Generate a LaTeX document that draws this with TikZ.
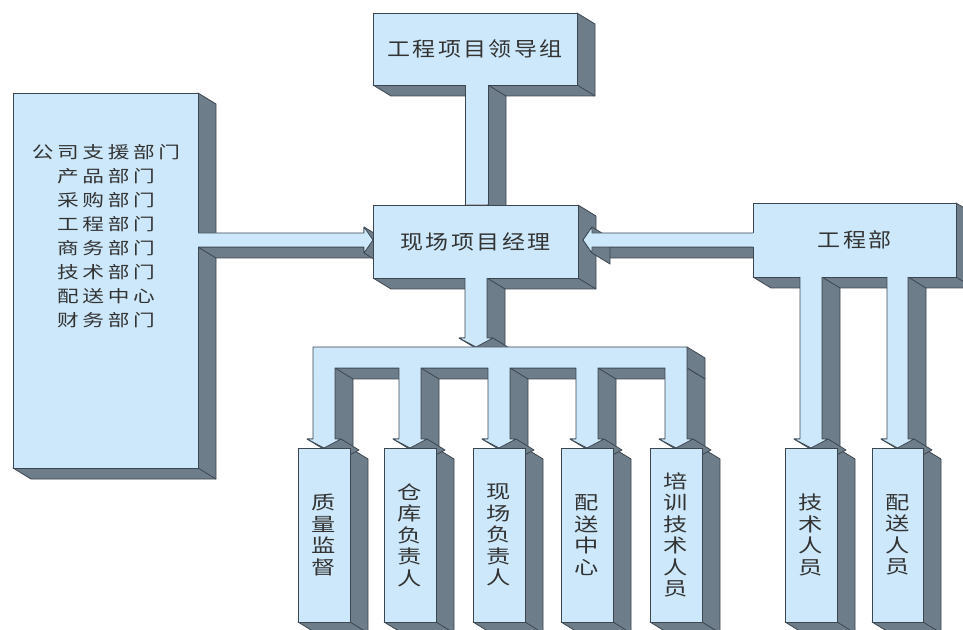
\documentclass[tikz,border=0pt]{standalone}
\usepackage{fontspec}
\newfontfamily\cjkT[FakeStretch=1.15,LetterSpace=12]{Noto Sans CJK SC}
\newfontfamily\cjkL[FakeStretch=1.3,LetterSpace=22]{Noto Sans CJK SC}
\newfontfamily\cjkV[FakeStretch=1.3]{Noto Sans CJK SC}
\definecolor{facec}{HTML}{CCE8FA}
\definecolor{sidec}{HTML}{6E7D8A}
\definecolor{linec}{HTML}{3C4650}
\definecolor{textc}{HTML}{333333}
\def\dX{18}
\def\dY{11}
\tikzset{
  sideface/.style={fill=sidec, draw=linec, line width=0.6pt, line join=round},
  edge/.style={draw=linec, line width=0.6pt, line join=round},
  frontface/.style={fill=facec, draw=linec, line width=0.6pt, inner sep=0pt, text=textc, align=center},
  ttext/.style={font={\cjkT\fontsize{15pt}{18pt}\selectfont}},
  vtext/.style={font={\cjkV\fontsize{14pt}{16.1pt}\selectfont}},
  ltext/.style={font={\cjkL\fontsize{12.5pt}{18pt}\selectfont}, text=textc, align=center, inner sep=0pt},
}
% extrusion of a rectangle x1,y1,x2,y2 (image coords)
\newcommand{\extr}[4]{%
  \filldraw[sideface] (#3,#2) -- ({#3+\dX},{#2+\dY}) -- ({#3+\dX},{#4+\dY}) -- ({#1+\dX},{#4+\dY}) -- (#1,#4) -- (#3,#4) -- cycle;
  \draw[edge] (#3,#4) -- ({#3+\dX},{#4+\dY});}
% extrusion of a downward arrow head: a, b, tip y
\newcommand{\extrdown}[3]{%
  \filldraw[sideface] ({#1-6},{#3-9}) -- ({#2+6},{#3-9}) -- ({#2+6+\dX},{#3-9+\dY}) -- ({(#1+#2)/2+\dX},{#3+\dY}) -- ({#1-6+\dX},{#3-9+\dY}) -- cycle;}
% front of a downward bar: a, b, start y, tip y
\newcommand{\downbar}[4]{%
  \fill[facec] (#1,{#3-2}) -- (#1,{#4-9}) -- ({#1-6},{#4-9}) -- ({(#1+#2)/2},#4) -- ({#2+6},{#4-9}) -- (#2,{#4-9}) -- (#2,{#3-2}) -- cycle;
  \draw[edge] (#1,#3) -- (#1,{#4-9}) -- ({#1-6},{#4-9}) -- ({(#1+#2)/2},#4) -- ({#2+6},{#4-9}) -- (#2,{#4-9}) -- (#2,#3);}
% front box node: name, x1, y1, x2, y2, style, text
\newcommand{\frontbox}[7]{%
  \node[frontface, #6, minimum width={(#4-#2)*0.75pt}, minimum height={(#5-#3)*0.75pt}] (#1) at ({(#2+#4)/2},{(#3+#5)/2}) {#7};}
\begin{document}
\begin{tikzpicture}[x=0.75pt, y=-0.75pt]
\useasboundingbox (0,0) rectangle (963,630);
\clip (0,0) rectangle (963,630);
% ---------- extrusions (back) ----------
\extr{13}{93}{198}{468}
\extr{373}{13}{577}{85}
\extr{373}{205}{578}{278}
\extr{753}{203}{956}{277}
\foreach \a/\b in {298/350, 384/436, 473/525, 561/613, 650/702, 785/837, 872/923}
  {\extr{\a}{448}{\b}{622}}
% bars
\extr{465}{85}{488}{205}
\extr{465}{278}{487}{338}
\extrdown{465}{487}{347}
\extr{313}{347}{687}{368}
\foreach \a/\b in {313/335, 399/421, 488/510, 576/598, 665/687}
  {\extr{\a}{368}{\b}{439}\extrdown{\a}{\b}{448}}
\foreach \a/\b in {800/822, 887/908}
  {\extr{\a}{277}{\b}{439}\extrdown{\a}{\b}{448}}
\extr{198}{233}{364}{247}
\filldraw[sideface] (364,227) -- ({364+\dX},{227+\dY}) -- ({373+\dX},{240+\dY}) -- ({364+\dX},{253+\dY}) -- (364,253) -- cycle;
\extr{592}{233}{753}{247}
\filldraw[sideface] (583,240) -- (592,227) -- ({592+\dX},{227+\dY}) -- ({592+\dX},{253+\dY}) -- (592,253) -- cycle;
% ---------- front faces ----------
\frontbox{L}{13}{93}{198}{468}{}{}
\node[ltext] (Ltext) at (106,236) {公司支援部门\\产品部门\\采购部门\\工程部门\\商务部门\\技术部门\\配送中心\\财务部门};
\frontbox{G}{373}{13}{577}{85}{ttext}{工程项目领导组}
\frontbox{P}{373}{205}{578}{278}{ttext}{现场项目经理}
\frontbox{E}{753}{203}{956}{277}{ttext}{工程部}
\frontbox{q1}{298}{448}{350}{622}{vtext}{质\\量\\监\\督}
\frontbox{q2}{384}{448}{436}{622}{vtext}{仓\\库\\负\\责\\人}
\frontbox{q3}{473}{448}{525}{622}{vtext}{现\\场\\负\\责\\人}
\frontbox{q4}{561}{448}{613}{622}{vtext}{配\\送\\中\\心}
\frontbox{q5}{650}{448}{702}{622}{vtext}{培\\训\\技\\术\\人\\员}
\frontbox{t1}{785}{448}{837}{622}{vtext}{技\\术\\人\\员}
\frontbox{t2}{872}{448}{923}{622}{vtext}{配\\送\\人\\员}
% ---------- connector fronts ----------
% G -> P
\fill[facec] (465,83) rectangle (488,204.5);
\draw[edge] (465,85) -- (465,205) (488,85) -- (488,205);
% P -> bus
\downbar{465}{487}{278}{347}
% bus comb
\filldraw[edge, fill=facec] (313,347) -- (687,347)
  -- (687,439) -- (693,439) -- (676,448) -- (659,439) -- (665,439) -- (665,368)
  -- (598,368) -- (598,439) -- (604,439) -- (587,448) -- (570,439) -- (576,439) -- (576,368)
  -- (510,368) -- (510,439) -- (516,439) -- (499,448) -- (482,439) -- (488,439) -- (488,368)
  -- (421,368) -- (421,439) -- (427,439) -- (410,448) -- (393,439) -- (399,439) -- (399,368)
  -- (335,368) -- (335,439) -- (341,439) -- (324,448) -- (307,439) -- (313,439) -- cycle;
% E -> t1, t2
\downbar{800}{822}{277}{448}
\downbar{887}{908}{277}{448}
% L -> P
\fill[facec] (196,233) -- (364,233) -- (364,227) -- (373,240) -- (364,253) -- (364,247) -- (196,247) -- cycle;
\draw[edge] (198,233) -- (364,233) -- (364,227) -- (373,240) -- (364,253) -- (364,247) -- (198,247);
% E -> P
\fill[facec] (755,233) -- (592,233) -- (592,227) -- (583,240) -- (592,253) -- (592,247) -- (755,247) -- cycle;
\draw[edge] (753,233) -- (592,233) -- (592,227) -- (583,240) -- (592,253) -- (592,247) -- (753,247);
\end{tikzpicture}
\end{document}
